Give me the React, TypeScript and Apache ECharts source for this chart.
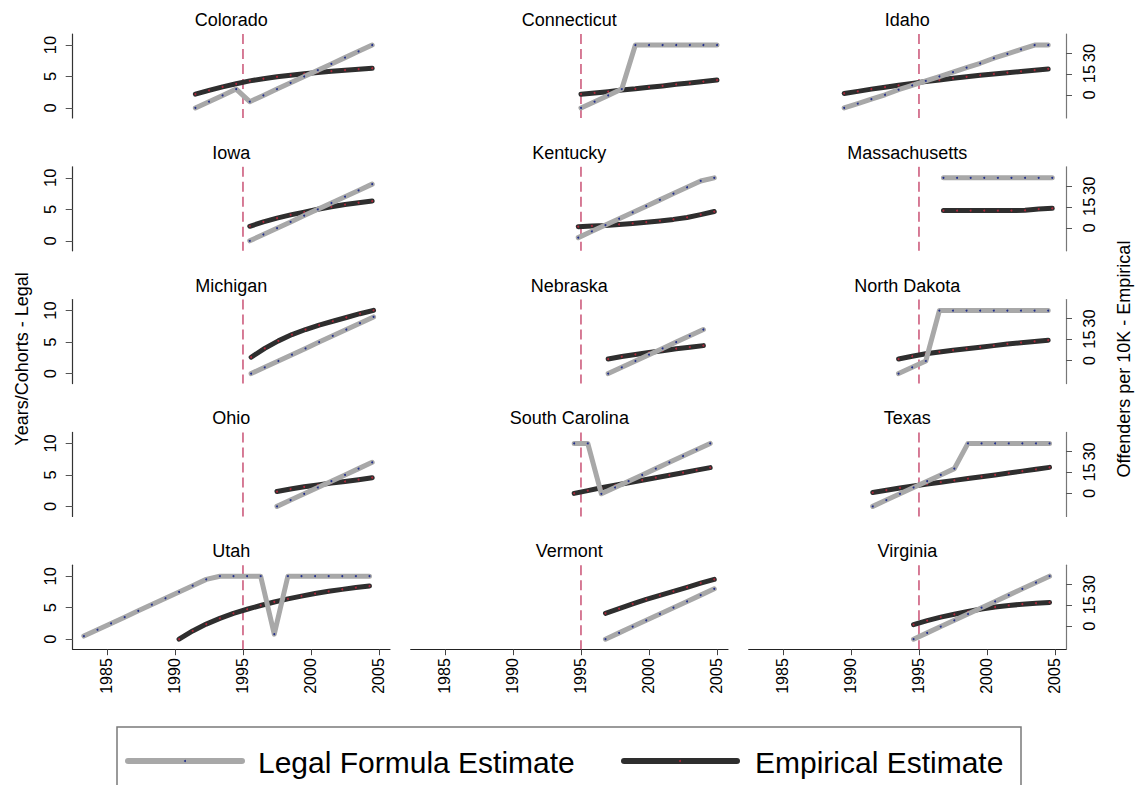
import React, { useEffect, useRef } from "react";
import * as echarts from "echarts";

// ---- data -------------------------------------------------------------
const reformYear = 1995;
const yearTicks = [1985, 1990, 1995, 2000, 2005];
const legalTicks = [0, 5, 10];
const empiricalTicks = [0, 15, 30];

const coloradoYears = [1991.5, 1992.5, 1993.5, 1994.5, 1995.5, 1996.5, 1997.5, 1998.5, 1999.5, 2000.5, 2001.5, 2002.5, 2003.5, 2004.5];
const coloradoLegal = [0, 1, 2, 3, 1, 2, 3, 4, 5, 6, 7, 8, 9, 10];
const coloradoEmpirical = [0.6, 3.3, 5.8, 8.0, 10.1, 11.6, 13.0, 14.1, 15.2, 16.1, 17.0, 17.7, 18.4, 19.1];

const connecticutYears = [1995, 1996, 1997, 1998, 1999, 2000, 2001, 2002, 2003, 2004, 2005];
const connecticutLegal = [0, 1, 2, 3, 10, 10, 10, 10, 10, 10, 10];
const connecticutEmpirical = [0.6, 1.5, 2.4, 3.5, 4.4, 5.6, 6.5, 7.6, 8.5, 9.6, 10.7];

const idahoYears = [1989.5, 1990.5, 1991.5, 1992.5, 1993.5, 1994.5, 1995.5, 1996.5, 1997.5, 1998.5, 1999.5, 2000.5, 2001.5, 2002.5, 2003.5, 2004.5];
const idahoLegal = [0, 0.7, 1.4, 2.1, 2.9, 3.6, 4.3, 5.0, 5.7, 6.4, 7.1, 7.9, 8.6, 9.3, 10, 10];
const idahoEmpirical = [1.1, 2.6, 4.2, 5.6, 6.9, 8.3, 9.6, 10.7, 11.9, 13.0, 14.1, 15.0, 15.9, 16.8, 17.7, 18.6];

const iowaYears = [1995.5, 1996.5, 1997.5, 1998.5, 1999.5, 2000.5, 2001.5, 2002.5, 2003.5, 2004.5];
const iowaLegal = [0, 1, 2, 3, 4, 5, 6, 7, 8, 9];
const iowaEmpirical = [1.1, 4.2, 6.9, 9.2, 11.2, 13.2, 15.0, 16.6, 17.9, 19.1];

const kentuckyYears = [1994.8, 1995.8, 1996.8, 1997.8, 1998.8, 1999.8, 2000.8, 2001.8, 2002.8, 2003.8, 2004.8];
const kentuckyLegal = [0.5, 1.5, 2.5, 3.5, 4.5, 5.5, 6.5, 7.5, 8.5, 9.5, 10];
const kentuckyEmpirical = [0.8, 1.3, 1.7, 2.4, 3.1, 4.0, 4.9, 6.0, 7.4, 9.4, 11.6];

const massachusettsYears = [1996.8, 1997.8, 1998.8, 1999.8, 2000.8, 2001.8, 2002.8, 2003.8, 2004.8];
const massachusettsLegal = [10, 10, 10, 10, 10, 10, 10, 10, 10];
const massachusettsEmpirical = [12.3, 12.3, 12.3, 12.3, 12.3, 12.3, 12.5, 13.4, 13.9];

const michiganYears = [1995.6, 1996.6, 1997.6, 1998.6, 1999.6, 2000.6, 2001.6, 2002.6, 2003.6, 2004.6];
const michiganLegal = [0, 1, 2, 3, 4, 5, 6, 7, 8, 9];
const michiganEmpirical = [2.4, 8.7, 14.1, 18.6, 22.2, 25.4, 28.1, 30.8, 33.5, 35.9];

const nebraskaYears = [1997, 1998, 1999, 2000, 2001, 2002, 2003, 2004];
const nebraskaLegal = [0, 1, 2, 3, 4, 5, 6, 7];
const nebraskaEmpirical = [1.1, 2.9, 4.4, 5.8, 7.1, 8.5, 9.6, 10.7];

const northDakotaYears = [1993.5, 1994.5, 1995.5, 1996.5, 1997.5, 1998.5, 1999.5, 2000.5, 2001.5, 2002.5, 2003.5, 2004.5];
const northDakotaLegal = [0, 1, 2, 10, 10, 10, 10, 10, 10, 10, 10, 10];
const northDakotaEmpirical = [1.1, 3.1, 4.9, 6.2, 7.4, 8.5, 9.6, 10.7, 11.9, 12.8, 13.7, 14.6];

const ohioYears = [1997.5, 1998.5, 1999.5, 2000.5, 2001.5, 2002.5, 2003.5, 2004.5];
const ohioLegal = [0, 1, 2, 3, 4, 5, 6, 7];
const ohioEmpirical = [1.3, 3.1, 4.7, 6.0, 7.4, 8.5, 9.8, 11.2];

const southCarolinaYears = [1994.5, 1995.5, 1996.5, 1997.5, 1998.5, 1999.5, 2000.5, 2001.5, 2002.5, 2003.5, 2004.5];
const southCarolinaLegal = [10, 10, 2, 3, 4, 5, 6, 7, 8, 9, 10];
const southCarolinaEmpirical = [0.0, 2.0, 4.0, 5.8, 7.6, 9.4, 11.2, 13.0, 14.8, 16.6, 18.4];

const texasYears = [1991.6, 1992.6, 1993.6, 1994.6, 1995.6, 1996.6, 1997.6, 1998.6, 1999.6, 2000.6, 2001.6, 2002.6, 2003.6, 2004.6];
const texasLegal = [0, 1, 2, 3, 4, 5, 6, 10, 10, 10, 10, 10, 10, 10];
const texasEmpirical = [0.6, 2.3, 3.9, 5.3, 6.7, 8.0, 9.3, 10.6, 11.9, 13.2, 14.5, 15.9, 17.2, 18.6];

const utahLegalYears = [1983.3, 1984.3, 1985.3, 1986.3, 1987.3, 1988.3, 1989.3, 1990.3, 1991.3, 1992.3, 1993.3, 1994.3, 1995.3, 1996.3, 1997.3, 1998.3, 1999.3, 2000.3, 2001.3, 2002.3, 2003.3, 2004.3];
const utahLegal = [0.5, 1.5, 2.5, 3.5, 4.5, 5.5, 6.5, 7.5, 8.5, 9.5, 10, 10, 10, 10, 0.8, 10, 10, 10, 10, 10, 10, 10];
const utahEmpiricalYears = [1990.3, 1991.3, 1992.3, 1993.3, 1994.3, 1995.3, 1996.3, 1997.3, 1998.3, 1999.3, 2000.3, 2001.3, 2002.3, 2003.3, 2004.3];
const utahEmpirical = [-9.3, -3.4, 1.5, 5.6, 9.2, 12.1, 14.8, 17.3, 19.5, 21.5, 23.3, 24.9, 26.3, 27.6, 28.7];

const vermontYears = [1996.8, 1997.8, 1998.8, 1999.8, 2000.8, 2001.8, 2002.8, 2003.8, 2004.8];
const vermontLegal = [0, 1, 2, 3, 4, 5, 6, 7, 8];
const vermontEmpirical = [9.2, 12.5, 15.9, 19.1, 22.0, 24.9, 27.8, 30.8, 33.5];

const virginiaYears = [1994.6, 1995.6, 1996.6, 1997.6, 1998.6, 1999.6, 2000.6, 2001.6, 2002.6, 2003.6, 2004.6];
const virginiaLegal = [0, 1, 2, 3, 4, 5, 6, 7, 8, 9, 10];
const virginiaEmpirical = [1.1, 4.0, 6.5, 8.5, 10.5, 12.3, 13.7, 14.8, 15.7, 16.4, 17.0];

type Panel = { name: string; legalYears: number[]; legal: number[]; empYears: number[]; emp: number[] };

const panels: Panel[] = [
  { name: "Colorado", legalYears: coloradoYears, legal: coloradoLegal, empYears: coloradoYears, emp: coloradoEmpirical },
  { name: "Connecticut", legalYears: connecticutYears, legal: connecticutLegal, empYears: connecticutYears, emp: connecticutEmpirical },
  { name: "Idaho", legalYears: idahoYears, legal: idahoLegal, empYears: idahoYears, emp: idahoEmpirical },
  { name: "Iowa", legalYears: iowaYears, legal: iowaLegal, empYears: iowaYears, emp: iowaEmpirical },
  { name: "Kentucky", legalYears: kentuckyYears, legal: kentuckyLegal, empYears: kentuckyYears, emp: kentuckyEmpirical },
  { name: "Massachusetts", legalYears: massachusettsYears, legal: massachusettsLegal, empYears: massachusettsYears, emp: massachusettsEmpirical },
  { name: "Michigan", legalYears: michiganYears, legal: michiganLegal, empYears: michiganYears, emp: michiganEmpirical },
  { name: "Nebraska", legalYears: nebraskaYears, legal: nebraskaLegal, empYears: nebraskaYears, emp: nebraskaEmpirical },
  { name: "North Dakota", legalYears: northDakotaYears, legal: northDakotaLegal, empYears: northDakotaYears, emp: northDakotaEmpirical },
  { name: "Ohio", legalYears: ohioYears, legal: ohioLegal, empYears: ohioYears, emp: ohioEmpirical },
  { name: "South Carolina", legalYears: southCarolinaYears, legal: southCarolinaLegal, empYears: southCarolinaYears, emp: southCarolinaEmpirical },
  { name: "Texas", legalYears: texasYears, legal: texasLegal, empYears: texasYears, emp: texasEmpirical },
  { name: "Utah", legalYears: utahLegalYears, legal: utahLegal, empYears: utahEmpiricalYears, emp: utahEmpirical },
  { name: "Vermont", legalYears: vermontYears, legal: vermontLegal, empYears: vermontYears, emp: vermontEmpirical },
  { name: "Virginia", legalYears: virginiaYears, legal: virginiaLegal, empYears: virginiaYears, emp: virginiaEmpirical },
];

// ---- layout & style ---------------------------------------------------
const FONT = "'Liberation Sans', Arial, Helvetica, sans-serif";
const X_MIN = 1982.48;
const X_MAX = 2005.81;
const LEFT_MIN = -1.59;
const LEFT_MAX = 11.75;
const RIGHT_MIN = -16.43;
const RIGHT_MAX = 43.57;

const GRID_LEFT0 = 72.7;
const COL_STEP = 338;
const GRID_W = 317.3;
const GRID_TOP0 = 34;
const ROW_STEP = 132.8;
const GRID_H = 84;

const LEGAL_COLOR = "#a8a8a8";
const EMP_COLOR = "#2e2e2e";
const REFORM_COLOR = "#c0355e";

function buildOption() {
  const grid: any[] = [];
  const xAxis: any[] = [];
  const yAxis: any[] = [];
  const series: any[] = [];
  const graphic: any[] = [];

  panels.forEach((p, i) => {
    const r = Math.floor(i / 3);
    const c = i % 3;
    const left = GRID_LEFT0 + c * COL_STEP;
    const top = GRID_TOP0 + r * ROW_STEP;
    const isBottom = r === 4;
    const isLeft = c === 0;
    const isRight = c === 2;

    grid.push({ left, top, width: GRID_W, height: GRID_H });

    xAxis.push({
      type: "value",
      gridIndex: i,
      min: X_MIN,
      max: X_MAX,
      position: "bottom",
      splitLine: { show: false },
      axisLine: { show: isBottom, onZero: false, lineStyle: { color: "#222", width: 1.2 } },
      axisTick: { show: isBottom, length: 6, customValues: yearTicks, lineStyle: { color: "#444", width: 1 } },
      axisLabel: {
        show: isBottom,
        customValues: yearTicks,
        rotate: 90,
        margin: 9,
        fontSize: 16,
        fontFamily: FONT,
        color: "#000",
        formatter: (v: number) => String(v),
      },
    });

    yAxis.push({
      type: "value",
      gridIndex: i,
      position: "left",
      min: LEFT_MIN,
      max: LEFT_MAX,
      splitLine: { show: false },
      axisLine: { show: isLeft, onZero: false, lineStyle: { color: "#333", width: 1.2 } },
      axisTick: { show: isLeft, length: 7, customValues: legalTicks, lineStyle: { color: "#555", width: 1 } },
      axisLabel: {
        show: isLeft,
        customValues: legalTicks,
        rotate: 90,
        margin: 14,
        fontSize: 16.5,
        fontFamily: FONT,
        color: "#000",
        formatter: (v: number) => String(v),
      },
    });

    yAxis.push({
      type: "value",
      gridIndex: i,
      position: "right",
      min: RIGHT_MIN,
      max: RIGHT_MAX,
      splitLine: { show: false },
      axisLine: { show: isRight, onZero: false, lineStyle: { color: "#777", width: 1.2 } },
      axisTick: { show: isRight, length: 6, customValues: empiricalTicks, lineStyle: { color: "#555", width: 1 } },
      axisLabel: {
        show: isRight,
        customValues: empiricalTicks,
        rotate: 90,
        margin: 14,
        fontSize: 16.5,
        fontFamily: FONT,
        color: "#000",
        formatter: (v: number) => String(v),
      },
    });

    // reform year marker
    series.push({
      type: "line",
      xAxisIndex: i,
      yAxisIndex: 2 * i,
      data: [
        [reformYear, LEFT_MAX],
        [reformYear, LEFT_MIN],
      ],
      symbol: "none",
      silent: true,
      z: 1,
      lineStyle: { color: REFORM_COLOR, width: 1.3, type: [10, 5] },
    });

    series.push({
      type: "line",
      name: "Empirical Estimate",
      xAxisIndex: i,
      yAxisIndex: 2 * i + 1,
      data: p.empYears.map((x, k) => [x, p.emp[k]]),
      symbol: "circle",
      symbolSize: 2,
      showSymbol: true,
      showAllSymbol: true,
      silent: true,
      z: 3,
      itemStyle: { color: "#b0283a", borderWidth: 0 },
      lineStyle: { color: EMP_COLOR, width: 5, cap: "round", join: "round" },
    });

    series.push({
      type: "line",
      name: "Legal Formula Estimate",
      xAxisIndex: i,
      yAxisIndex: 2 * i,
      data: p.legalYears.map((x, k) => [x, p.legal[k]]),
      symbol: "circle",
      symbolSize: 2,
      showSymbol: true,
      showAllSymbol: true,
      silent: true,
      z: 4,
      itemStyle: { color: "#23308c", borderWidth: 0 },
      lineStyle: { color: LEGAL_COLOR, width: 5, cap: "round", join: "round" },
    });

    graphic.push({
      type: "text",
      x: left + GRID_W / 2,
      y: top - 14,
      style: {
        text: p.name,
        align: "center",
        verticalAlign: "middle",
        font: `18px ${FONT}`,
        fill: "#000",
      },
    });
  });

  // axis titles
  graphic.push({
    type: "text",
    x: 22,
    y: 359,
    rotation: Math.PI / 2,
    style: { text: "Years/Cohorts - Legal", align: "center", verticalAlign: "middle", font: `18px ${FONT}`, fill: "#000" },
  });
  graphic.push({
    type: "text",
    x: 1124,
    y: 359,
    rotation: Math.PI / 2,
    style: { text: "Offenders per 10K - Empirical", align: "center", verticalAlign: "middle", font: `18px ${FONT}`, fill: "#000" },
  });

  // legend box
  graphic.push({
    type: "rect",
    shape: { x: 117, y: 727, width: 904, height: 80 },
    style: { fill: "#fff", stroke: "#7a7a7a", lineWidth: 1.5 },
  });
  graphic.push({
    type: "line",
    shape: { x1: 128, y1: 761, x2: 242, y2: 761 },
    style: { stroke: LEGAL_COLOR, lineWidth: 6, lineCap: "round" },
  });
  graphic.push({ type: "circle", shape: { cx: 185, cy: 761, r: 1 }, style: { fill: "#23308c" } });
  graphic.push({
    type: "text",
    x: 258,
    y: 762,
    style: { text: "Legal Formula Estimate", align: "left", verticalAlign: "middle", font: `30px ${FONT}`, fill: "#000" },
  });
  graphic.push({
    type: "line",
    shape: { x1: 624, y1: 761, x2: 737, y2: 761 },
    style: { stroke: EMP_COLOR, lineWidth: 6, lineCap: "round" },
  });
  graphic.push({ type: "circle", shape: { cx: 680, cy: 761, r: 1 }, style: { fill: "#b0283a" } });
  graphic.push({
    type: "text",
    x: 755,
    y: 762,
    style: { text: "Empirical Estimate", align: "left", verticalAlign: "middle", font: `30px ${FONT}`, fill: "#000" },
  });

  return {
    animation: false,
    backgroundColor: "#ffffff",
    textStyle: { fontFamily: FONT },
    grid,
    xAxis,
    yAxis,
    series,
    graphic,
  };
}

export default function App() {
  const ref = useRef<HTMLDivElement>(null);

  useEffect(() => {
    if (!ref.current) return;
    const chart = echarts.init(ref.current, undefined, { renderer: "svg" });
    chart.setOption(buildOption());
    return () => chart.dispose();
  }, []);

  return (
    <div
      ref={ref}
      style={{ position: "absolute", left: 0, top: 0, width: 1135, height: 785, background: "#fff" }}
    />
  );
}
